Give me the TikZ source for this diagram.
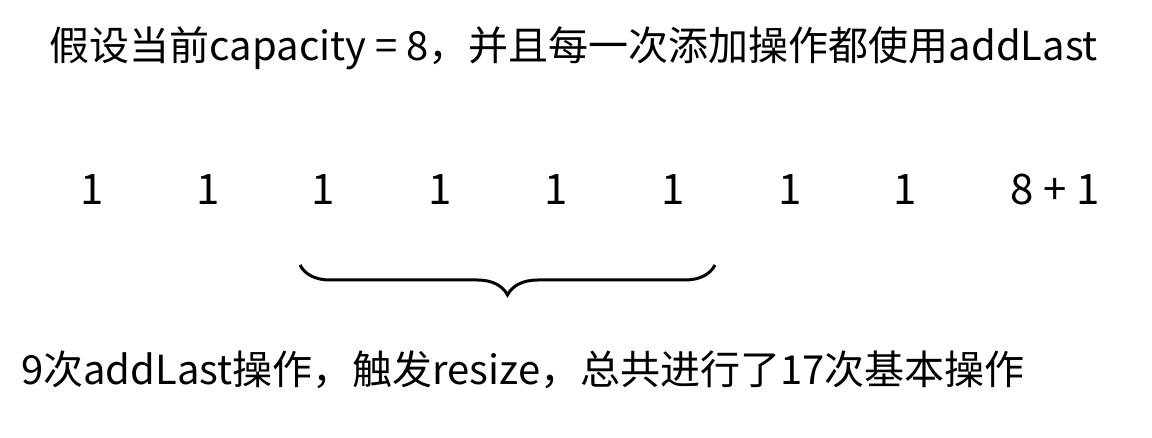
\documentclass[tikz,border=0pt]{standalone}
\usepackage{fontspec}
\setmainfont{Noto Sans CJK SC}
\usetikzlibrary{decorations.pathreplacing, positioning}

\begin{document}
\begin{tikzpicture}[x=0.5pt, y=-0.5pt,
    num/.style={font=\fontsize{21}{24}\selectfont, inner sep=0pt},
    line/.style={font=\fontsize{20}{24}\selectfont, inner sep=0pt}]
      \useasboundingbox (0,0) rectangle (1152,438);

      \node[line] (title) at (574,48) {假设当前capacity = 8，并且每一次添加操作都使用addLast};

      \node[num] (n1) at (92,190) {1};
      \node[num] (n2) at (208,190) {1};
      \node[num] (n3) at (323,190) {1};
      \node[num] (n4) at (440,190) {1};
      \node[num] (n5) at (556,190) {1};
      \node[num] (n6) at (673,190) {1};
      \node[num] (n7) at (790,190) {1};
      \node[num] (n8) at (905,190) {1};
      \node[num] (n9) at (1055,190) {8 + 1};

      \coordinate (bl) at (300,265);
      \coordinate (br) at (715,265);
      \draw[line width=1.5pt, decorate, decoration={brace, mirror, amplitude=15pt}] (bl) -- (br);

      \node[line] (sum) at (523,370) {9次addLast操作，触发resize，总共进行了17次基本操作};
    \end{tikzpicture}
\end{document}
